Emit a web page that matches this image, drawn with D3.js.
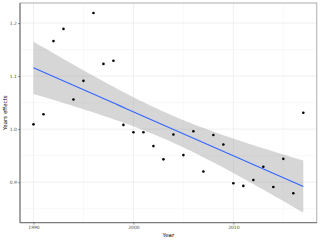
<!DOCTYPE html>
<html><head><meta charset="utf-8">
<script src="https://cdn.jsdelivr.net/npm/d3@7"></script>
<style>html,body{margin:0;padding:0;background:#fff;}svg{display:block;}</style>
</head><body>
<svg id="c" width="320" height="240"></svg>
<script>
const years = [1990,1991,1992,1993,1994,1995,1996,1997,1998,1999,2000,2001,2002,2003,2004,2005,2006,2007,2008,2009,2010,2011,2012,2013,2014,2015,2016,2017];
const effects = [1.009,1.028,1.166,1.189,1.056,1.091,1.219,1.123,1.129,1.008,0.994,0.994,0.968,0.943,0.990,0.951,0.996,0.920,0.989,0.971,0.898,0.893,0.904,0.929,0.891,0.944,0.879,1.031];
const xTicks = [1990,2000,2010];
const xMinor = [1995,2005,2015];
const yTicks = [0.9,1.0,1.1,1.2];
const yMinor = [0.85,0.95,1.05,1.15];
const xLabel = "Year", yLabel = "Years effects";

const svg = d3.select("#c");
const L=20, R=316.8, T=3, B=222.7;

// linear model with 95% confidence band
const n = years.length;
const mx = d3.mean(years), my = d3.mean(effects);
const sxx = d3.sum(years, v => (v-mx)**2);
const sxy = d3.sum(years.map((v,i)=>(v-mx)*(effects[i]-my)));
const b1 = sxy/sxx, b0 = my - b1*mx;
const rss = d3.sum(years.map((v,i)=>(effects[i]-(b0+b1*v))**2));
const s = Math.sqrt(rss/(n-2));
const tq = 2.0555;
const grid = d3.range(80).map(i => years[0] + (years[n-1]-years[0])*i/79);
const fit = grid.map(g => {
  const f = b0+b1*g, se = s*Math.sqrt(1/n + (g-mx)**2/sxx);
  return {x:g, y:f, lo:f-tq*se, hi:f+tq*se};
});

const xs = d3.extent(years), xp = (xs[1]-xs[0])*0.05;
const ylo = Math.min(d3.min(effects), d3.min(fit, d=>d.lo));
const yhi = Math.max(d3.max(effects), d3.max(fit, d=>d.hi));
const yp = (yhi-ylo)*0.05;
const x = d3.scaleLinear().domain([xs[0]-xp, xs[1]+xp]).range([L,R]);
const y = d3.scaleLinear().domain([ylo-yp, yhi+yp]).range([B,T]);

// grid
const g = svg.append("g");
g.selectAll(".vm").data(xMinor).join("line").attr("x1",d=>x(d)).attr("x2",d=>x(d)).attr("y1",T).attr("y2",B).attr("stroke","#f3f3f3").attr("stroke-width",0.5);
g.selectAll(".hm").data(yMinor).join("line").attr("y1",d=>y(d)).attr("y2",d=>y(d)).attr("x1",L).attr("x2",R).attr("stroke","#f3f3f3").attr("stroke-width",0.5);
g.selectAll(".vM").data(xTicks).join("line").attr("x1",d=>x(d)).attr("x2",d=>x(d)).attr("y1",T).attr("y2",B).attr("stroke","#e8e8e8").attr("stroke-width",0.7);
g.selectAll(".hM").data(yTicks).join("line").attr("y1",d=>y(d)).attr("y2",d=>y(d)).attr("x1",L).attr("x2",R).attr("stroke","#e8e8e8").attr("stroke-width",0.7);

// band
svg.append("path").datum(fit)
  .attr("d", d3.area().x(d=>x(d.x)).y0(d=>y(d.lo)).y1(d=>y(d.hi)))
  .attr("fill","#999999").attr("fill-opacity",0.4);
svg.append("path").datum(fit)
  .attr("d", d3.line().x(d=>x(d.x)).y(d=>y(d.y)))
  .attr("fill","none").attr("stroke","#3366FF").attr("stroke-width",1.1);

// points
svg.selectAll("circle").data(years).join("circle")
  .attr("cx",d=>x(d)).attr("cy",(d,i)=>y(effects[i])).attr("r",1.3).attr("fill","#000");

// border
svg.append("rect").attr("x",L).attr("y",T).attr("width",R-L).attr("height",B-T)
  .attr("fill","none").attr("stroke","#999").attr("stroke-width",0.8);
svg.append("line").attr("x1",L).attr("x2",L).attr("y1",T).attr("y2",B).attr("stroke","#666").attr("stroke-width",0.9);
svg.append("line").attr("x1",L).attr("x2",R).attr("y1",B).attr("y2",B).attr("stroke","#666").attr("stroke-width",0.9);

// axes
const ax = svg.append("g").attr("transform",`translate(0,${B})`)
  .call(d3.axisBottom(x).tickValues(xTicks).tickFormat(d3.format("d")).tickSize(2).tickPadding(1));
const ay = svg.append("g").attr("transform",`translate(${L},0)`)
  .call(d3.axisLeft(y).tickValues(yTicks).tickFormat(d3.format(".1f")).tickSize(2).tickPadding(1));
[ax,ay].forEach(a=>{
  a.select(".domain").remove();
  a.selectAll(".tick line").attr("stroke","#333").attr("stroke-width",0.5);
  a.selectAll(".tick text").attr("fill","#4d4d4d").style("font-family","DejaVu Sans, sans-serif").style("font-size","4.5px");
});

svg.append("text").attr("x",(L+R)/2).attr("y",237).attr("text-anchor","middle")
  .style("font-family","DejaVu Sans, sans-serif").style("font-size","5.5px").attr("fill","#000").text(xLabel);
svg.append("text").attr("transform",`translate(7,${(T+B)/2}) rotate(-90)`).attr("text-anchor","middle")
  .style("font-family","DejaVu Sans, sans-serif").style("font-size","5.5px").attr("fill","#000").text(yLabel);
</script>
</body></html>
